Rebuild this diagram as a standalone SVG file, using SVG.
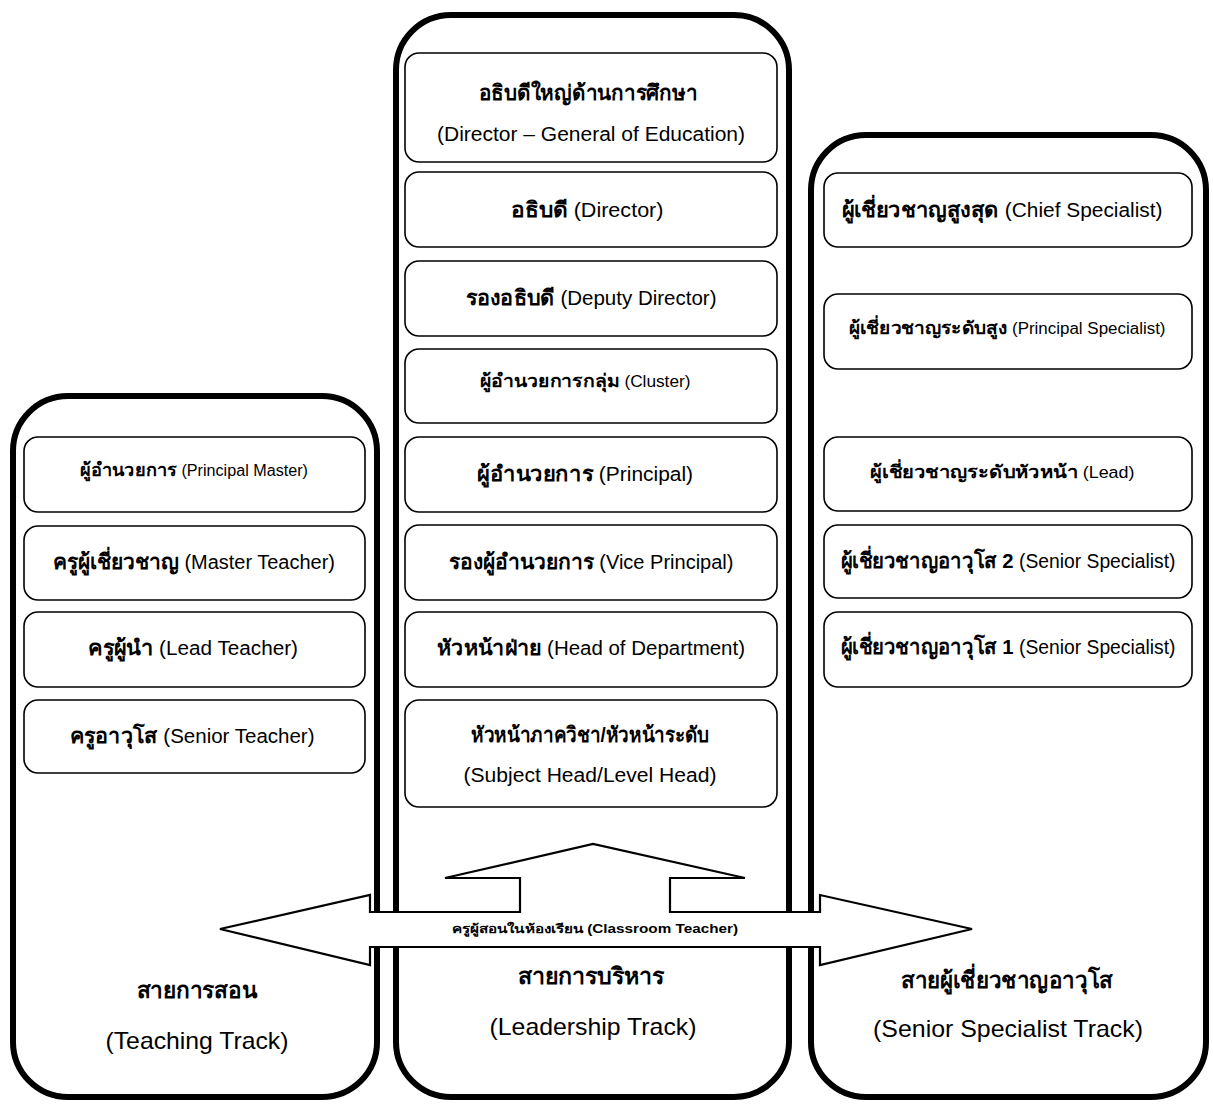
<svg xmlns="http://www.w3.org/2000/svg" width="1213" height="1104" viewBox="0 0 1213 1104">
  <style>
    .track { fill: #fff; stroke: #000; stroke-width: 6; }
    .box { fill: #fff; stroke: #000; stroke-width: 1.6; }
    text { font-family: "Liberation Sans", "Noto Sans", "DejaVu Sans", sans-serif; fill: #000; text-anchor: middle; }
    .lbl { font-size: 20px; }
    .sm { font-size: 16px; }
    .th { font-weight: bold; font-size: 21px; }
    .sm .th { font-size: 18px; }
    .head { font-size: 23px; font-weight: bold; }
    .sub { font-size: 24px; }
    .arrow { fill: #fff; stroke: #000; stroke-width: 2.2; stroke-linejoin: miter; }
  </style>
  <rect width="1213" height="1104" fill="#fff"/>

  <!-- Track containers -->
  <g id="track-teaching">
    <rect class="track" x="13" y="396" width="364" height="701" rx="55" ry="55"/>
    <text class="head" x="197" y="998" textLength="121" lengthAdjust="spacingAndGlyphs">สายการสอน</text>
    <text class="sub" x="197" y="1049" textLength="183" lengthAdjust="spacingAndGlyphs">(Teaching Track)</text>
  </g>
  <g id="track-leadership">
    <rect class="track" x="396" y="15" width="393" height="1082" rx="55" ry="55"/>
    <text class="head" x="591" y="984" textLength="147" lengthAdjust="spacingAndGlyphs">สายการบริหาร</text>
    <text class="sub" x="593" y="1035" textLength="207" lengthAdjust="spacingAndGlyphs">(Leadership Track)</text>
  </g>
  <g id="track-specialist">
    <rect class="track" x="811" y="135" width="395" height="962" rx="55" ry="55"/>
    <text class="head" x="1007" y="988" textLength="212" lengthAdjust="spacingAndGlyphs">สายผู้เชี่ยวชาญอาวุโส</text>
    <text class="sub" x="1008" y="1037" textLength="270" lengthAdjust="spacingAndGlyphs">(Senior Specialist Track)</text>
  </g>

  <!-- Leadership track positions -->
  <g id="l1"><rect class="box" x="405" y="53" width="372" height="109" rx="14"/>
    <text class="lbl th" x="588" y="100" textLength="219" lengthAdjust="spacingAndGlyphs">อธิบดีใหญ่ด้านการศึกษา</text>
    <text class="lbl" x="591" y="141" textLength="308" lengthAdjust="spacingAndGlyphs">(Director – General of Education)</text></g>
  <g id="l2"><rect class="box" x="405" y="172" width="372" height="75" rx="14"/>
    <text class="lbl" x="587" y="217" textLength="153" lengthAdjust="spacingAndGlyphs"><tspan class="th">อธิบดี</tspan> (Director)</text></g>
  <g id="l3"><rect class="box" x="405" y="261" width="372" height="75" rx="14"/>
    <text class="lbl" x="591" y="305" textLength="251" lengthAdjust="spacingAndGlyphs"><tspan class="th">รองอธิบดี</tspan> (Deputy Director)</text></g>
  <g id="l4"><rect class="box" x="405" y="349" width="372" height="74" rx="14"/>
    <text class="sm" x="585" y="387" textLength="211" lengthAdjust="spacingAndGlyphs"><tspan class="th">ผู้อำนวยการกลุ่ม</tspan> (Cluster)</text></g>
  <g id="l5"><rect class="box" x="405" y="437" width="372" height="75" rx="14"/>
    <text class="lbl" x="585" y="481" textLength="216" lengthAdjust="spacingAndGlyphs"><tspan class="th">ผู้อำนวยการ</tspan> (Principal)</text></g>
  <g id="l6"><rect class="box" x="405" y="525" width="372" height="75" rx="14"/>
    <text class="lbl" x="591" y="569" textLength="285" lengthAdjust="spacingAndGlyphs"><tspan class="th">รองผู้อำนวยการ</tspan> (Vice Principal)</text></g>
  <g id="l7"><rect class="box" x="405" y="612" width="372" height="75" rx="14"/>
    <text class="lbl" x="591" y="655" textLength="308" lengthAdjust="spacingAndGlyphs"><tspan class="th">หัวหน้าฝ่าย</tspan> (Head of Department)</text></g>
  <g id="l8"><rect class="box" x="405" y="700" width="372" height="107" rx="14"/>
    <text class="lbl th" x="590" y="742" textLength="238" lengthAdjust="spacingAndGlyphs">หัวหน้าภาควิชา/หัวหน้าระดับ</text>
    <text class="lbl" x="590" y="782" textLength="253" lengthAdjust="spacingAndGlyphs">(Subject Head/Level Head)</text></g>

  <!-- Teaching track positions -->
  <g id="t1"><rect class="box" x="24" y="437" width="341" height="75" rx="14"/>
    <text class="sm" x="194" y="476" textLength="228" lengthAdjust="spacingAndGlyphs"><tspan class="th">ผู้อำนวยการ</tspan> (Principal Master)</text></g>
  <g id="t2"><rect class="box" x="24" y="526" width="341" height="74" rx="14"/>
    <text class="lbl" x="194" y="569" textLength="282" lengthAdjust="spacingAndGlyphs"><tspan class="th">ครูผู้เชี่ยวชาญ</tspan> (Master Teacher)</text></g>
  <g id="t3"><rect class="box" x="24" y="612" width="341" height="75" rx="14"/>
    <text class="lbl" x="193" y="655" textLength="210" lengthAdjust="spacingAndGlyphs"><tspan class="th">ครูผู้นำ</tspan> (Lead Teacher)</text></g>
  <g id="t4"><rect class="box" x="24" y="700" width="341" height="73" rx="14"/>
    <text class="lbl" x="192" y="743" textLength="245" lengthAdjust="spacingAndGlyphs"><tspan class="th">ครูอาวุโส</tspan> (Senior Teacher)</text></g>

  <!-- Specialist track positions -->
  <g id="s1"><rect class="box" x="824" y="173" width="368" height="74" rx="14"/>
    <text class="lbl" x="1002" y="217" textLength="321" lengthAdjust="spacingAndGlyphs"><tspan class="th">ผู้เชี่ยวชาญสูงสุด</tspan> (Chief Specialist)</text></g>
  <g id="s2"><rect class="box" x="824" y="294" width="368" height="75" rx="14"/>
    <text class="sm" x="1007" y="334" textLength="317" lengthAdjust="spacingAndGlyphs"><tspan class="th">ผู้เชี่ยวชาญระดับสูง</tspan> (Principal Specialist)</text></g>
  <g id="s3"><rect class="box" x="824" y="437" width="368" height="74" rx="14"/>
    <text class="sm" x="1002" y="478" textLength="265" lengthAdjust="spacingAndGlyphs"><tspan class="th">ผู้เชี่ยวชาญระดับหัวหน้า</tspan> (Lead)</text></g>
  <g id="s4"><rect class="box" x="824" y="525" width="368" height="73" rx="14"/>
    <text class="lbl" x="1008" y="568" textLength="335" lengthAdjust="spacingAndGlyphs"><tspan class="th">ผู้เชี่ยวชาญอาวุโส 2</tspan> (Senior Specialist)</text></g>
  <g id="s5"><rect class="box" x="824" y="612" width="368" height="75" rx="14"/>
    <text class="lbl" x="1008" y="654" textLength="335" lengthAdjust="spacingAndGlyphs"><tspan class="th">ผู้เชี่ยวชาญอาวุโส 1</tspan> (Senior Specialist)</text></g>

  <!-- Connectors: classroom teacher entry arrow branching into the three tracks -->
  <g id="connectors">
    <polygon class="arrow" points="220,929 370,895 370,912 520,912 520,878 445,878 593,844 745,878 670,878 670,912 820,912 820,895 972,929 820,965 820,947 370,947 370,965"/>
    <text x="595" y="933" style="font-size:12px;font-weight:bold" textLength="286" lengthAdjust="spacingAndGlyphs">ครูผู้สอนในห้องเรียน (Classroom Teacher)</text>
  </g>
</svg>
